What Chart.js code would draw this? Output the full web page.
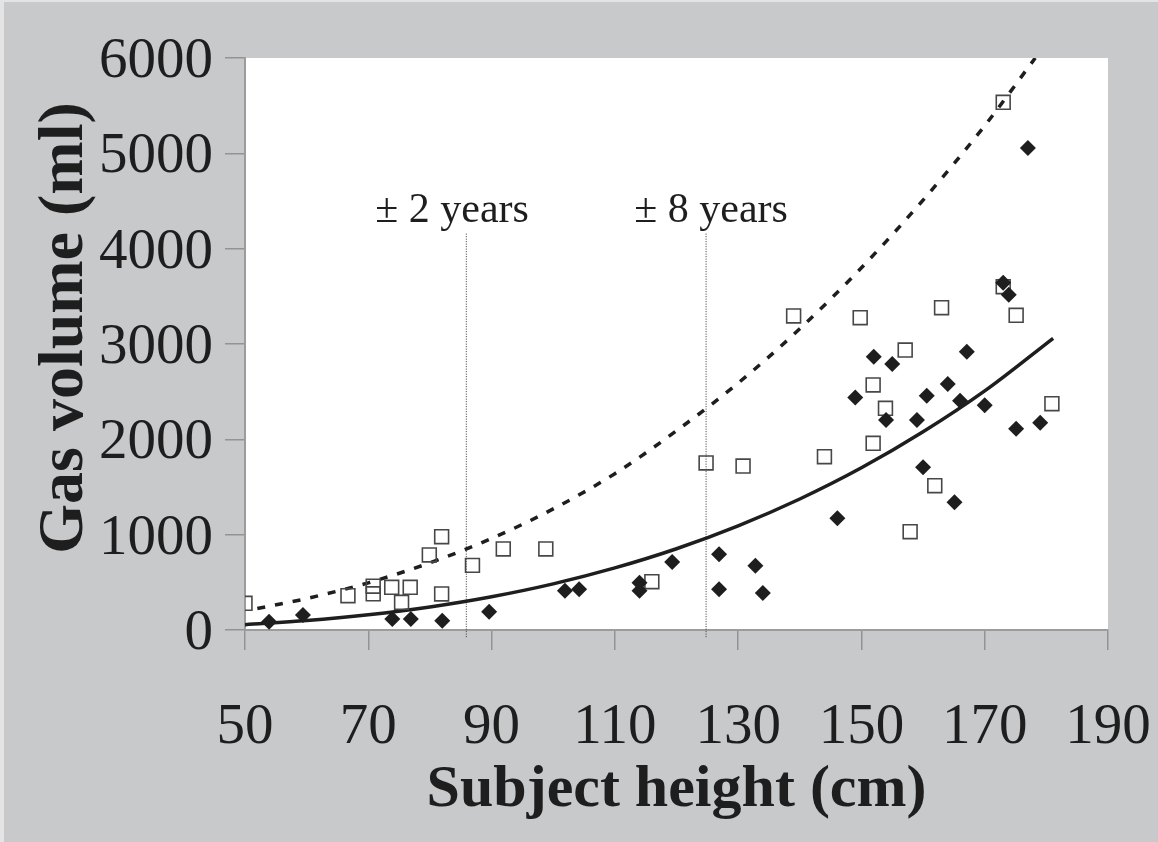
<!DOCTYPE html>
<html>
<head>
<meta charset="utf-8">
<script src="https://cdn.jsdelivr.net/npm/chart.js@4.4.0/dist/chart.umd.min.js"></script>
<style>
  html, body { margin: 0; padding: 0; background: #c8c9cb; }
  canvas { display: block; }
</style>
</head>
<body>
<canvas id="gasChart" width="1158" height="842"></canvas>
<script>
// open squares
const openHeights = [50, 66.7, 70.8, 70.8, 73.8, 76.8, 75.4, 79.9, 81.9, 81.9, 86.9, 91.9, 98.8,
  116.0, 124.8, 130.8, 139.0, 144.0, 149.8, 151.9, 151.9, 153.9, 157.1, 157.9, 161.9, 163.0,
  173.0, 173.0, 175.1, 180.9];
const openVolumes = [280, 360, 460, 380, 448, 448, 290, 787, 979, 378, 678, 850, 850,
  507, 1752, 1720, 3294, 1818, 3276, 2570, 1958, 2325, 2937, 1031, 1514, 3381,
  3601, 5535, 3301, 2374];

// filled diamonds
const filledHeights = [53.9, 59.4, 73.9, 76.9, 82.0, 89.6, 101.9, 104.2, 114.0, 114.0, 119.3,
  126.9, 126.9, 132.8, 134.0, 146.1, 149.0, 152.0, 154.0, 155.0, 159.0, 160.0, 160.6, 164.0,
  165.1, 166.0, 167.1, 170.0, 173.0, 173.9, 175.1, 177.0, 179.0];
const filledVolumes = [87, 157, 115, 115, 98, 192, 413, 427, 496, 413, 713,
  794, 427, 675, 388, 1171, 2440, 2867, 2203, 2790, 2203, 1706, 2458, 2580,
  1339, 2405, 2920, 2357, 3643, 3517, 2112, 5056, 2175];

// upper (dashed) trend curve, read along its path
const upperCurveHeights = [52, 60, 70, 80, 90, 100, 110, 120, 130, 140, 150, 160, 170, 178.2];
const upperCurveVolumes = [225, 330, 495, 705, 960, 1270, 1640, 2090, 2590, 3160, 3800, 4510, 5290, 6000];

// lower (solid) trend curve
const lowerCurveHeights = [50, 60, 70, 80, 90, 100, 110, 120, 130, 140, 150, 160, 170, 181.1];
const lowerCurveVolumes = [56, 99, 160, 242, 349, 484, 651, 852, 1092, 1374, 1701, 2079, 2508, 3060];

// age marks
const ageMarkHeights = [85.9, 124.8];
const ageMarkLabels = ['\u00b1 2 years', '\u00b1 8 years'];
const ageMarkSpan = [-75, 4160];

const xTicks = [50, 70, 90, 110, 130, 150, 170, 190];
const yTicks = [0, 1000, 2000, 3000, 4000, 5000, 6000];

const toPoints = (xs, ys) => xs.map((x, i) => ({ x: x, y: ys[i] }));
const serif = '"Liberation Serif", "DejaVu Serif", serif';
const ink = '#1e1e1e';
const axisGrey = '#939393';

const plotBackground = {
  id: 'plotBackground',
  beforeDraw(chart) {
    const { ctx, chartArea: a, width, height } = chart;
    ctx.save();
    ctx.fillStyle = '#c8c9cb';
    ctx.fillRect(0, 0, width, height);
    ctx.fillStyle = '#e4e4e5';
    ctx.fillRect(0, 0, width, 2);
    ctx.fillRect(0, 0, 4, height);
    ctx.fillStyle = '#ffffff';
    ctx.fillRect(a.left, a.top, a.right - a.left, a.bottom - a.top);
    ctx.restore();
  }
};

const ageLabels = {
  id: 'ageLabels',
  afterDatasetsDraw(chart, args, opts) {
    const { ctx, scales } = chart;
    ctx.save();
    ctx.font = '42px ' + serif;
    ctx.fillStyle = ink;
    ctx.textAlign = 'center';
    ctx.textBaseline = 'middle';
    opts.anchors.forEach((p, i) => {
      ctx.fillText(ageMarkLabels[i], scales.x.getPixelForValue(p.x), scales.y.getPixelForValue(p.y));
    });
    ctx.restore();
  }
};

const markLines = ageMarkHeights.map(h => ({
  type: 'line',
  data: toPoints([h, h], ageMarkSpan),
  borderColor: '#333333',
  borderWidth: 1,
  borderDash: [1, 1.5],
  pointRadius: 0,
  clip: false,
  order: 5
}));

new Chart(document.getElementById('gasChart'), {
  type: 'scatter',
  data: {
    datasets: [
      ...markLines,
      {
        type: 'line',
        data: toPoints(upperCurveHeights, upperCurveVolumes),
        borderColor: ink,
        borderWidth: 3.5,
        borderDash: [8, 10],
        cubicInterpolationMode: 'monotone',
        pointRadius: 0,
        order: 4
      },
      {
        type: 'line',
        data: toPoints(lowerCurveHeights, lowerCurveVolumes),
        borderColor: ink,
        borderWidth: 3.5,
        cubicInterpolationMode: 'monotone',
        pointRadius: 0,
        order: 3
      },
      {
        data: toPoints(openHeights, openVolumes),
        pointStyle: 'rect',
        pointRadius: 9.8,
        pointBorderWidth: 1.6,
        pointBorderColor: '#474747',
        pointBackgroundColor: 'rgba(0,0,0,0)',
        order: 2
      },
      {
        data: toPoints(filledHeights, filledVolumes),
        pointStyle: 'rectRot',
        pointRadius: 8,
        pointBorderWidth: 0,
        pointBackgroundColor: ink,
        order: 1
      }
    ]
  },
  options: {
    responsive: false,
    animation: false,
    events: [],
    layout: { padding: { top: 58, right: 50, left: 0, bottom: 0 } },
    plugins: {
      legend: { display: false },
      tooltip: { enabled: false },
      ageLabels: { anchors: [{ x: 83.6, y: 4400 }, { x: 125.6, y: 4400 }] }
    },
    scales: {
      x: {
        type: 'linear',
        min: xTicks[0],
        max: xTicks[xTicks.length - 1],
        afterBuildTicks: s => { s.ticks = xTicks.map(v => ({ value: v })); },
        afterFit: s => { s.height = 212; s.paddingLeft = 0; s.paddingRight = 0; },
        grid: { drawOnChartArea: false, drawTicks: true, tickLength: 20, color: axisGrey, lineWidth: 1.5 },
        border: { display: true, color: '#9c9c9c', width: 2 },
        ticks: {
          color: ink, padding: 50, maxRotation: 0,
          font: { family: serif, size: 57, lineHeight: 1 },
          callback: v => String(v)
        },
        title: {
          display: true,
          text: 'Subject height (cm)',
          color: ink,
          font: { family: serif, size: 60, weight: 'bold', lineHeight: 1 },
          padding: { top: 0, bottom: 22 }
        }
      },
      y: {
        type: 'linear',
        min: yTicks[0],
        max: yTicks[yTicks.length - 1],
        afterBuildTicks: s => { s.ticks = yTicks.map(v => ({ value: v })); },
        afterFit: s => { s.width = 245; s.paddingTop = 0; s.paddingBottom = 0; },
        grid: { drawOnChartArea: false, drawTicks: true, tickLength: 20, color: axisGrey, lineWidth: 1.5 },
        border: { display: true, color: '#9c9c9c', width: 2 },
        ticks: {
          color: ink, padding: 12, labelOffset: 4,
          font: { family: serif, size: 57, lineHeight: 1 },
          callback: v => String(v)
        },
        title: {
          display: true,
          // leading en space nudges the rotated title up a little
          text: '\u2002Gas volume (ml)',
          color: ink,
          font: { family: serif, size: 64, weight: 'bold', lineHeight: 1 },
          padding: { top: 33, bottom: 0 }
        }
      }
    }
  },
  plugins: [plotBackground, ageLabels]
});
</script>
</body>
</html>
